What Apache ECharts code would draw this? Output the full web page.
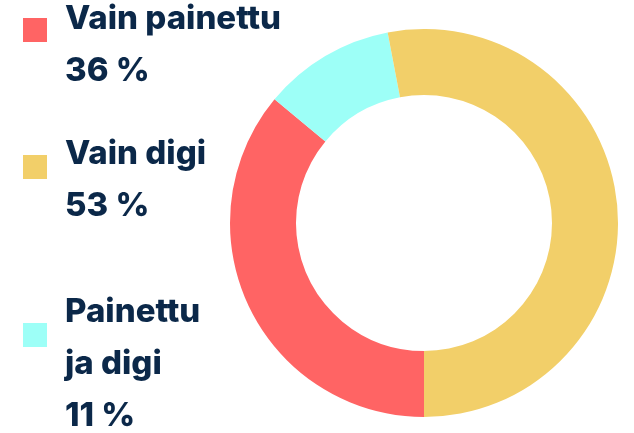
<!DOCTYPE html>
<html>
<head>
<meta charset="utf-8">
<script src="https://cdn.jsdelivr.net/npm/echarts@6/dist/echarts.min.js"></script>
<style>
html, body { margin: 0; padding: 0; background: #fff; }
#main { width: 634px; height: 433px; }
</style>
</head>
<body>
<div id="main"></div>
<script>
var labels = ['Vain painettu', 'Painettu\nja digi', 'Vain digi'];
var values = [36, 11, 53];
var colors = ['#ff6464', '#9dfff7', '#f2cf69'];
// legend order as drawn on the left
var legendOrder = [0, 2, 1];
var legendTops = [18, 155, 323];
var textTops = [-7, 128, 286];

var myChart = echarts.init(document.getElementById('main'));

var graphics = [];
legendOrder.forEach(function (idx, i) {
	graphics.push({
		type: 'rect',
		left: 23,
		top: legendTops[i],
		shape: { width: 24, height: 24 },
		style: { fill: colors[idx] },
		silent: true
	});
	graphics.push({
		type: 'text',
		left: 65,
		top: textTops[i],
		style: {
			text: labels[idx] + '\n' + values[idx] + ' %',
			font: '800 33px Inter',
			lineHeight: 52,
			fill: '#0b2849'
		},
		silent: true
	});
});

option = {
	animation: false,
	graphic: graphics,
	series: [{
		type: 'pie',
		center: [424, 223],
		radius: [128, 194],
		startAngle: 270,
		clockwise: true,
		silent: true,
		label: { show: false },
		labelLine: { show: false },
		data: labels.map(function (name, i) {
			return { name: name, value: values[i], itemStyle: { color: colors[i] } };
		})
	}]
};
myChart.setOption(option);
</script>
</body>
</html>
